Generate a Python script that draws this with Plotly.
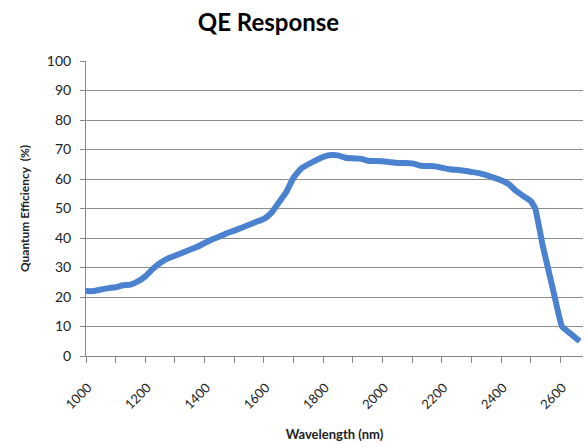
import plotly.graph_objects as go

wavelength = [1000, 1025, 1050, 1075, 1100, 1125, 1150, 1175, 1200, 1225, 1250, 1275, 1300,
              1325, 1350, 1375, 1400, 1425, 1450, 1475, 1500, 1525, 1550, 1575, 1600, 1625,
              1650, 1675, 1700, 1725, 1750, 1775, 1800, 1825, 1850, 1875, 1900, 1925, 1950,
              1975, 2000, 2025, 2050, 2075, 2100, 2125, 2150, 2175, 2200, 2225, 2250, 2275,
              2300, 2325, 2350, 2375, 2400, 2425, 2450, 2475, 2500, 2515, 2540, 2575, 2605,
              2635, 2665]
qe = [22, 22, 22.5, 23, 23.3, 24, 24.2, 25.3, 27, 29.5, 31.5, 33, 34,
      35, 36, 37, 38.3, 39.5, 40.5, 41.6, 42.5, 43.5, 44.5, 45.5, 46.5, 48.5,
      52, 55.5, 60.5, 63.5, 65, 66.3, 67.5, 68.1, 68, 67.2, 67, 66.9, 66.2,
      66.1, 66, 65.7, 65.4, 65.4, 65.3, 64.6, 64.4, 64.3, 63.8, 63.3, 63.1, 62.8,
      62.4, 62, 61.3, 60.5, 59.6, 58.3, 56, 54.2, 52.5, 50, 37.5, 22.5, 10,
      7.5, 5]

x_tickvals = list(range(1000, 2700, 100))
x_ticktext = [str(v) if v % 200 == 0 else "" for v in x_tickvals]
y_tickvals = list(range(0, 101, 10))

font_family = "Lato, 'Open Sans', sans-serif"

fig = go.Figure()
fig.add_trace(go.Scatter(
    x=wavelength, y=qe, mode="lines",
    line=dict(color="#4A82CF", width=6, shape="spline", smoothing=0.3),
    showlegend=False, hoverinfo="skip"))

fig.update_layout(
    width=585, height=446,
    margin=dict(l=86, r=2, t=61, b=90),
    paper_bgcolor="white", plot_bgcolor="white",
    font=dict(family=font_family, color="#222222", size=12),
    title=dict(text="<b>QE Response</b>", xref="container", x=268.5 / 585, xanchor="center",
               yref="container", y=1 - 23 / 446, yanchor="middle",
               font=dict(size=24, color="black", family=font_family)),
)

fig.update_xaxes(
    range=[1000, 2676], tickvals=x_tickvals, ticktext=x_ticktext, tickangle=-45,
    ticks="outside", ticklen=6, tickcolor="#868686", showgrid=False,
    ticklabelshift=2, ticklabelstandoff=12,
    showline=True, linecolor="#868686", linewidth=1, zeroline=False,
    tickfont=dict(size=13, color="#222222"),
    title=dict(text="<b>Wavelength (nm)</b>", font=dict(size=13, color="#222222"), standoff=18),
)
fig.update_yaxes(
    range=[0, 100], tickvals=y_tickvals, ticks="outside", ticklen=5, tickcolor="#868686",
    ticklabelstandoff=6,
    showgrid=True, gridcolor="#8C8C8C", gridwidth=1,
    showline=True, linecolor="#868686", linewidth=1, zeroline=False,
    tickfont=dict(size=14, color="#222222"),
    title=dict(text="<b>Quantum Efficiency  (%)</b>", font=dict(size=12, color="#222222"), standoff=14),
)

fig.write_html("out.html", config={"displayModeBar": False},
               post_script="document.body.style.margin='0';document.body.style.overflow='hidden';")
